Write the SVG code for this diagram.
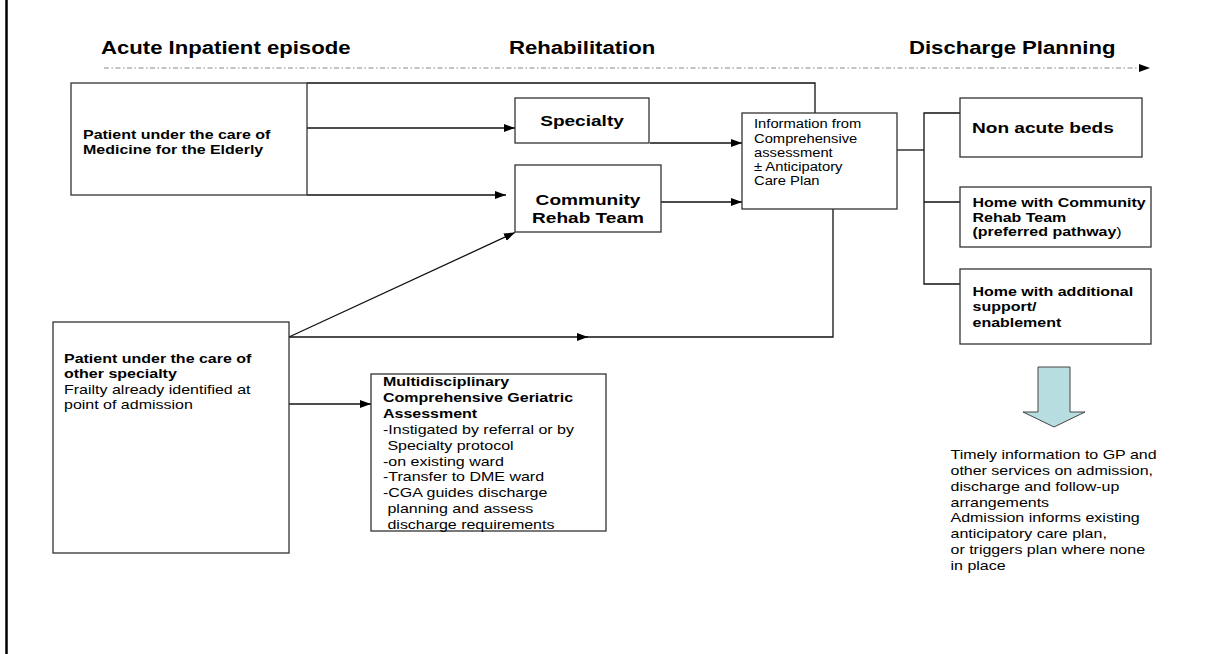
<svg xmlns="http://www.w3.org/2000/svg" width="1224" height="654" viewBox="0 0 1224 654">
<defs>
<style>
.box{fill:#fff;stroke:#333;stroke-width:1.3}
.ln{fill:none;stroke:#111;stroke-width:1.3}
.t{font-family:"Liberation Sans",Arial,sans-serif;fill:#000}
.b{font-weight:bold}
.s13{font-size:13px}
.s12{font-size:12px}
.s15{font-size:15.5px}
.s18{font-size:18px}
</style>
<marker id="ah" markerUnits="userSpaceOnUse" markerWidth="12" markerHeight="10" refX="11" refY="4" orient="auto">
<path d="M0,0 L11,4 L0,8 Z" fill="#000"/>
</marker>
</defs>
<rect width="1224" height="654" fill="#fff"/>
<line x1="6.5" y1="0" x2="6.5" y2="654" stroke="#000" stroke-width="2.5"/>

<g id="phases">
<text class="t b s18" transform="matrix(1.23 0 0 1 101 54)">Acute Inpatient episode</text>
<text class="t b s18" transform="matrix(1.23 0 0 1 509 54)">Rehabilitation</text>
<text class="t b s18" transform="matrix(1.23 0 0 1 909 54)">Discharge Planning</text>
<line x1="104" y1="68" x2="1150" y2="68" stroke="#888" stroke-width="1.2" stroke-dasharray="5 2.5 1.5 2.5" marker-end="url(#ah)"/>
</g>

<g id="connectors">
<polyline class="ln" points="307,83 815,83 815,113"/>
<line class="ln" x1="307" y1="128" x2="515" y2="128" marker-end="url(#ah)"/>
<line class="ln" x1="307" y1="195" x2="506" y2="195" marker-end="url(#ah)"/>
<line class="ln" x1="650" y1="143" x2="742" y2="143" marker-end="url(#ah)"/>
<line class="ln" x1="661" y1="202" x2="742" y2="202" marker-end="url(#ah)"/>
<line class="ln" x1="289" y1="337" x2="515" y2="232.5" marker-end="url(#ah)"/>
<line class="ln" x1="289" y1="337" x2="588" y2="337" marker-end="url(#ah)"/>
<polyline class="ln" points="586,337 833,337 833,209"/>
<line class="ln" x1="289" y1="404" x2="371" y2="404" marker-end="url(#ah)"/>
<line class="ln" x1="897" y1="150" x2="924" y2="150"/>
<polyline class="ln" points="960,113 924,113 924,284 960,284"/>
<line class="ln" x1="924" y1="202" x2="960" y2="202"/>
</g>

<g id="medicine-elderly">
<rect class="box" x="71" y="83" width="236" height="112"/>
<text class="t b s13" transform="matrix(1.23 0 0 1 83 0)"><tspan x="0" y="139">Patient under the care of</tspan><tspan x="0" y="154.5">Medicine for the Elderly</tspan></text>
</g>

<g id="specialty">
<rect class="box" x="515" y="98" width="134" height="45"/>
<text class="t b s15" text-anchor="middle" transform="matrix(1.23 0 0 1 582 126)">Specialty</text>
</g>

<g id="community-rehab">
<rect class="box" x="515" y="165" width="146" height="67"/>
<text class="t b s15" text-anchor="middle" transform="matrix(1.23 0 0 1 588 0)"><tspan x="0" y="205">Community</tspan><tspan x="0" y="223">Rehab Team</tspan></text>
</g>

<g id="info">
<rect class="box" x="742" y="113" width="155" height="96"/>
<text class="t s12" transform="matrix(1.23 0 0 1 754 0)"><tspan x="0" y="128.5">Information from</tspan><tspan x="0" y="142.7">Comprehensive</tspan><tspan x="0" y="157">assessment</tspan><tspan x="0" y="171.3">± Anticipatory</tspan><tspan x="0" y="185.5">Care Plan</tspan></text>
</g>

<g id="other-specialty">
<rect class="box" x="53" y="322" width="236" height="231"/>
<text class="t s13" transform="matrix(1.23 0 0 1 64 0)"><tspan class="b" x="0" y="363">Patient under the care of</tspan><tspan class="b" x="0" y="378.5">other specialty</tspan><tspan x="0" y="394">Frailty already identified at</tspan><tspan x="0" y="409.5">point of admission</tspan></text>
</g>

<g id="cga">
<rect class="box" x="371" y="374" width="235" height="157"/>
<text class="t s13" transform="matrix(1.23 0 0 1 383 0)"><tspan class="b" x="0" y="386.5">Multidisciplinary</tspan><tspan class="b" x="0" y="402.3">Comprehensive Geriatric</tspan><tspan class="b" x="0" y="418.2">Assessment</tspan><tspan x="0" y="434">-Instigated by referral or by</tspan><tspan x="0" y="449.8"> Specialty protocol</tspan><tspan x="0" y="465.6">-on existing ward</tspan><tspan x="0" y="481.4">-Transfer to DME ward</tspan><tspan x="0" y="497.2">-CGA guides discharge</tspan><tspan x="0" y="513"> planning and assess</tspan><tspan x="0" y="528.6"> discharge requirements</tspan></text>
</g>

<g id="non-acute">
<rect class="box" x="960" y="98" width="182" height="59"/>
<text class="t b s15" transform="matrix(1.23 0 0 1 972 133)">Non acute beds</text>
</g>

<g id="home-community">
<rect class="box" x="960" y="187" width="191" height="60"/>
<text class="t b s13" transform="matrix(1.23 0 0 1 972.5 0)"><tspan x="0" y="207.3">Home with Community</tspan><tspan x="0" y="221.7">Rehab Team</tspan><tspan x="0" y="236">(preferred pathway<tspan font-weight="normal">)</tspan></tspan></text>
</g>

<g id="home-support">
<rect class="box" x="960" y="269" width="191" height="75"/>
<text class="t b s13" transform="matrix(1.23 0 0 1 972.5 0)"><tspan x="0" y="295.7">Home with additional</tspan><tspan x="0" y="311.5">support/</tspan><tspan x="0" y="327.3">enablement</tspan></text>
</g>

<g id="block-arrow">
<path d="M1038,367 L1070,367 L1070,412 L1085,412 L1054,427 L1023,412 L1038,412 Z" fill="#B7DDE0" stroke="#444" stroke-width="1"/>
</g>

<g id="gp-info">
<text class="t s13" transform="matrix(1.23 0 0 1 950.5 0)"><tspan x="0" y="459.3">Timely information to GP and</tspan><tspan x="0" y="475">other services on admission,</tspan><tspan x="0" y="490.8">discharge and follow-up</tspan><tspan x="0" y="506.6">arrangements</tspan><tspan x="0" y="522.4">Admission informs existing</tspan><tspan x="0" y="538.2">anticipatory care plan,</tspan><tspan x="0" y="554">or triggers plan where none</tspan><tspan x="0" y="569.8">in place</tspan></text>
</g>
</svg>
